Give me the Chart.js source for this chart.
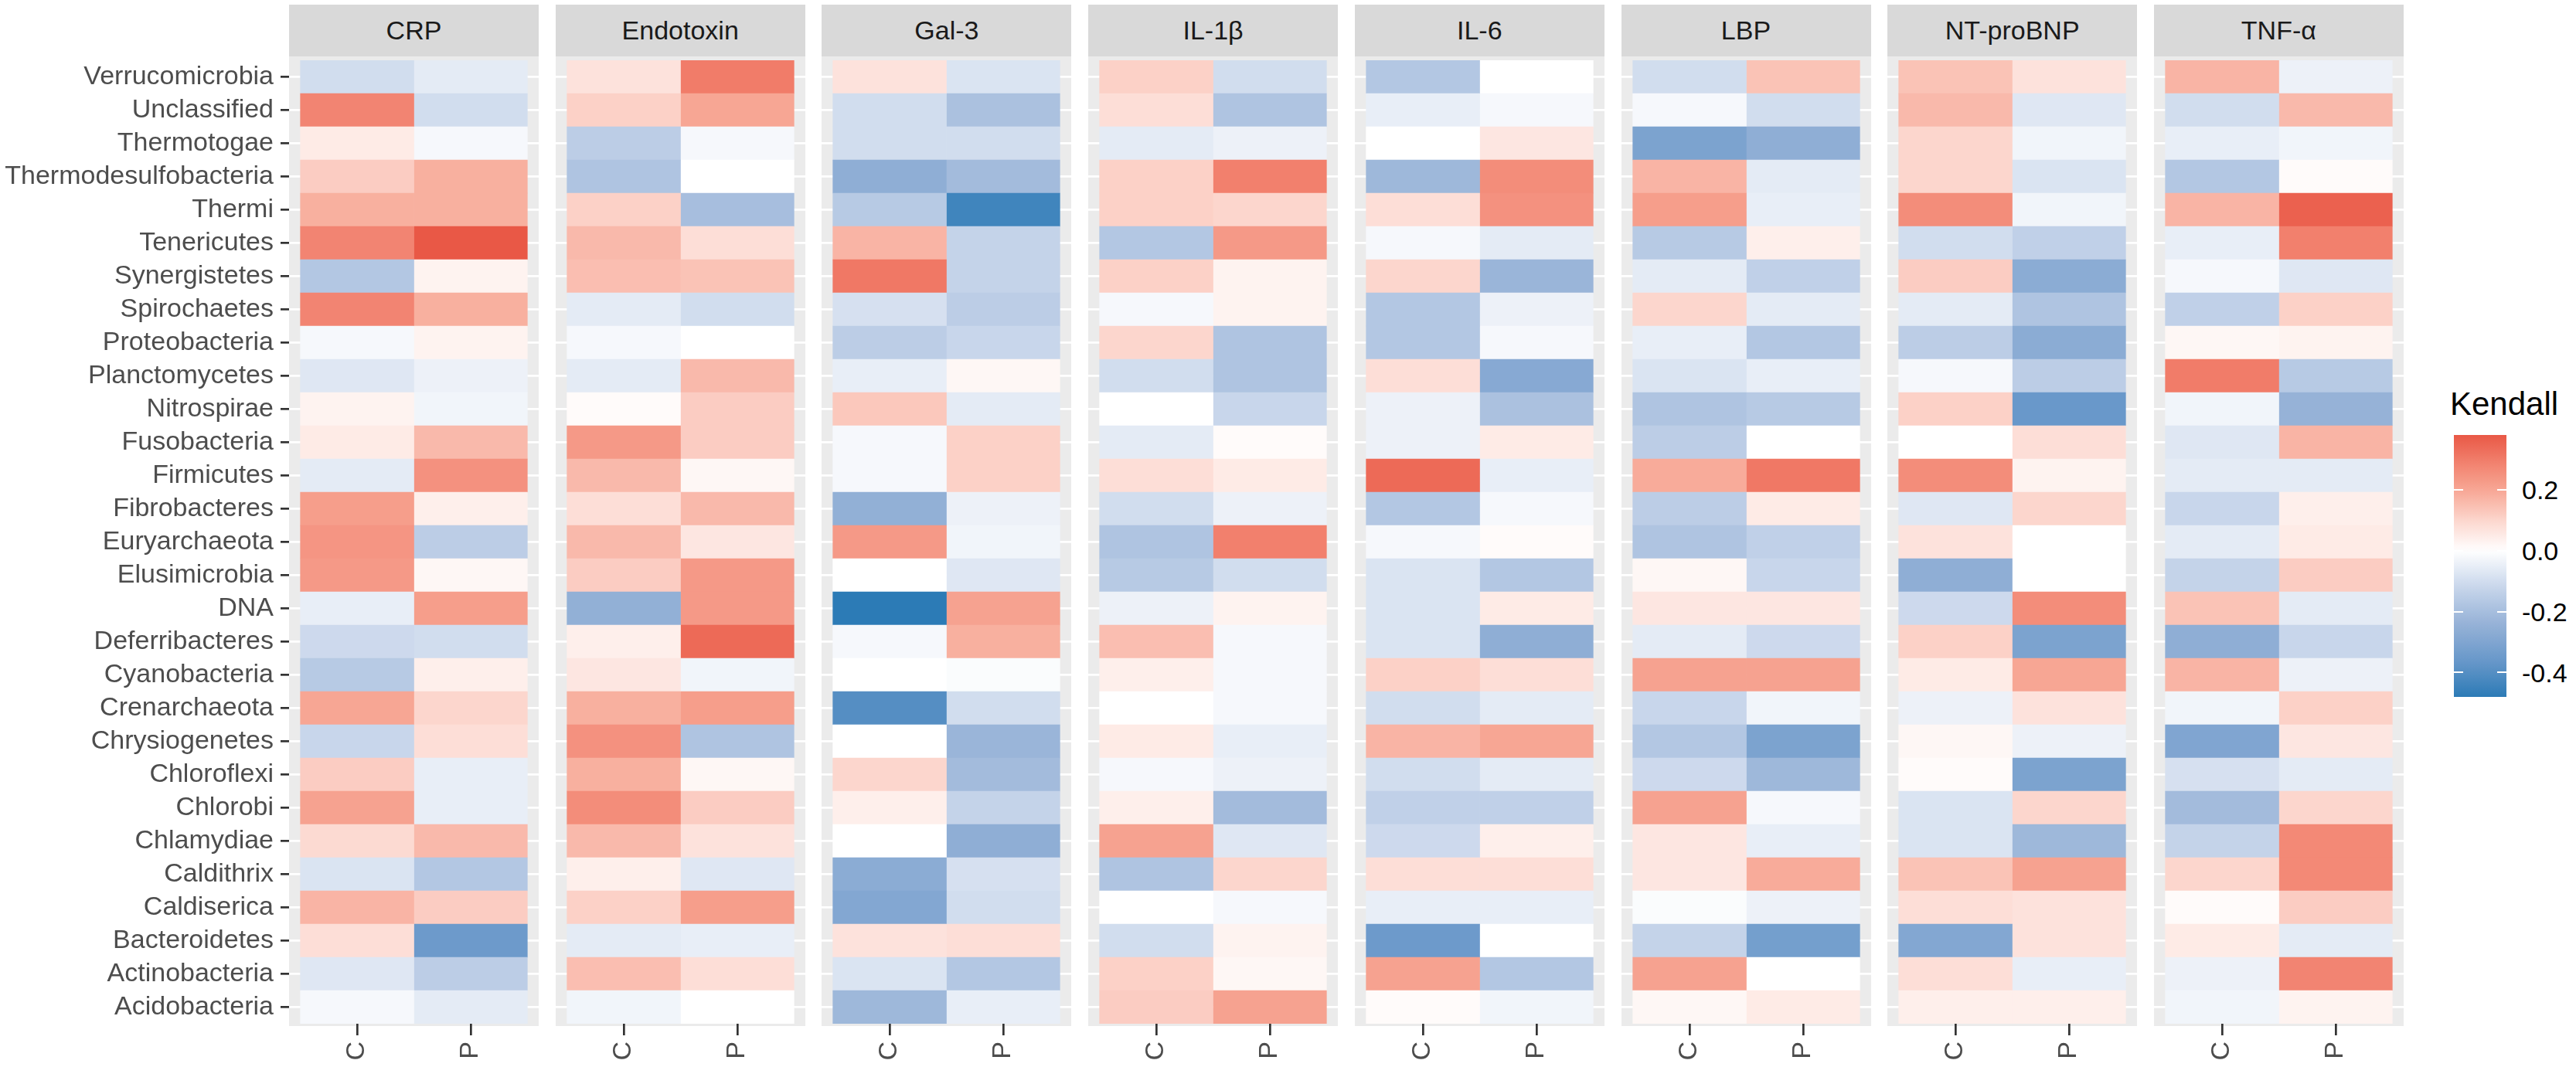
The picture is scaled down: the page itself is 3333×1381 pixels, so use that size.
<!DOCTYPE html>
<html>
<head>
<meta charset="utf-8">
<script src="https://cdn.jsdelivr.net/npm/chart.js@4.4.1/dist/chart.umd.min.js"></script>
<style>
  body { margin: 0; background: #fff; font-family: "Liberation Sans", Arial, sans-serif; }
  #page { position: relative; width: 3333px; height: 1381px; overflow: hidden; }
  .strip { position: absolute; top: 6px; height: 67px; line-height: 67px; background: #D9D9D9;
           color: #1A1A1A; font-size: 34px; text-align: center; }
  canvas { position: absolute; }
  .lab { position: absolute; font-size: 34px; line-height: 34px; color: #000; }
</style>
</head>
<body>
<div id="page"></div>
<script>
let taxa = ["Verrucomicrobia", "Unclassified", "Thermotogae", "Thermodesulfobacteria", "Thermi",
  "Tenericutes", "Synergistetes", "Spirochaetes", "Proteobacteria", "Planctomycetes", "Nitrospirae",
  "Fusobacteria", "Firmicutes", "Fibrobacteres", "Euryarchaeota", "Elusimicrobia", "DNA",
  "Deferribacteres", "Cyanobacteria", "Crenarchaeota", "Chrysiogenetes", "Chloroflexi", "Chlorobi",
  "Chlamydiae", "Caldithrix", "Caldiserica", "Bacteroidetes", "Actinobacteria", "Acidobacteria"];
let markers = ["CRP", "Endotoxin", "Gal-3", "IL-1β", "IL-6", "LBP", "NT-proBNP", "TNF-α"];
let groups = ["C", "P"];
let legendTicks = [0.2, 0.0, -0.2, -0.4];

// Kendall tau, rows in the order of taxa (top to bottom)
let crpC  = [-0.10, 0.28, 0.05, 0.12, 0.18, 0.28, -0.17, 0.28, -0.02, -0.07, 0.03, 0.05, -0.06, 0.22, 0.24, 0.23, -0.05, -0.11, -0.16, 0.20, -0.12, 0.12, 0.21, 0.09, -0.08, 0.17, 0.08, -0.07, -0.02];
let crpP  = [-0.06, -0.10, -0.02, 0.18, 0.18, 0.38, 0.03, 0.18, 0.03, -0.04, -0.03, 0.16, 0.25, 0.04, -0.15, 0.02, 0.22, -0.10, 0.04, 0.10, 0.08, -0.05, -0.05, 0.16, -0.17, 0.12, -0.35, -0.15, -0.06];
let endoC = [0.07, 0.11, -0.15, -0.18, 0.11, 0.16, 0.15, -0.06, -0.02, -0.06, 0.01, 0.23, 0.16, 0.08, 0.16, 0.12, -0.25, 0.04, 0.06, 0.18, 0.25, 0.18, 0.26, 0.16, 0.04, 0.11, -0.06, 0.15, -0.03];
let endoP = [0.30, 0.20, -0.02, 0.00, -0.20, 0.08, 0.14, -0.10, 0.00, 0.16, 0.12, 0.12, 0.02, 0.16, 0.06, 0.23, 0.23, 0.34, -0.03, 0.22, -0.18, 0.02, 0.12, 0.07, -0.07, 0.22, -0.05, 0.08, 0.00];
let gal3C = [0.07, -0.10, -0.10, -0.26, -0.16, 0.17, 0.31, -0.09, -0.15, -0.05, 0.13, -0.02, -0.02, -0.25, 0.23, 0.00, -0.48, -0.02, 0.00, -0.40, 0.00, 0.10, 0.04, 0.00, -0.27, -0.29, 0.07, -0.08, -0.22];
let gal3P = [-0.08, -0.19, -0.10, -0.21, -0.44, -0.13, -0.13, -0.15, -0.12, 0.02, -0.06, 0.11, 0.11, -0.04, -0.03, -0.07, 0.21, 0.18, -0.01, -0.10, -0.23, -0.21, -0.13, -0.26, -0.09, -0.10, 0.08, -0.17, -0.05];
let il1C  = [0.11, 0.08, -0.06, 0.11, 0.11, -0.17, 0.11, -0.02, 0.10, -0.10, 0.00, -0.06, 0.08, -0.10, -0.18, -0.16, -0.04, 0.15, 0.04, 0.00, 0.05, -0.02, 0.04, 0.21, -0.18, 0.00, -0.10, 0.11, 0.12];
let il1P  = [-0.10, -0.18, -0.04, 0.29, 0.10, 0.23, 0.03, 0.03, -0.18, -0.18, -0.12, 0.01, 0.05, -0.04, 0.29, -0.10, 0.03, -0.02, -0.02, -0.02, -0.05, -0.04, -0.21, -0.07, 0.10, -0.02, 0.03, 0.02, 0.21];
let il6C  = [-0.17, -0.05, 0.00, -0.22, 0.08, -0.02, 0.10, -0.17, -0.17, 0.08, -0.04, -0.04, 0.34, -0.17, -0.02, -0.08, -0.08, -0.08, 0.11, -0.10, 0.17, -0.10, -0.14, -0.11, 0.08, -0.05, -0.35, 0.21, 0.01];
let il6P  = [0.00, -0.02, 0.06, 0.26, 0.25, -0.06, -0.23, -0.04, -0.02, -0.28, -0.19, 0.05, -0.05, -0.02, 0.01, -0.17, 0.05, -0.26, 0.08, -0.06, 0.20, -0.06, -0.14, 0.04, 0.08, -0.05, 0.00, -0.17, -0.03];
let lbpC  = [-0.10, -0.02, -0.31, 0.17, 0.22, -0.16, -0.06, 0.10, -0.05, -0.08, -0.18, -0.15, 0.19, -0.15, -0.18, 0.02, 0.06, -0.06, 0.21, -0.12, -0.17, -0.11, 0.21, 0.06, 0.06, -0.01, -0.13, 0.21, 0.02];
let lbpP  = [0.14, -0.10, -0.26, -0.06, -0.05, 0.04, -0.14, -0.06, -0.17, -0.05, -0.16, 0.00, 0.31, 0.05, -0.14, -0.12, 0.06, -0.11, 0.21, -0.03, -0.31, -0.22, -0.02, -0.05, 0.19, -0.04, -0.33, 0.00, 0.05];
let ntC   = [0.14, 0.16, 0.10, 0.10, 0.26, -0.10, 0.12, -0.06, -0.15, -0.02, 0.11, 0.00, 0.26, -0.07, 0.07, -0.26, -0.11, 0.11, 0.05, -0.04, 0.02, 0.01, -0.08, -0.08, 0.14, 0.08, -0.29, 0.08, 0.04];
let ntP   = [0.07, -0.07, -0.03, -0.08, -0.03, -0.14, -0.27, -0.18, -0.27, -0.15, -0.36, 0.08, 0.03, 0.10, 0.00, 0.00, 0.26, -0.31, 0.20, 0.07, -0.04, -0.31, 0.10, -0.22, 0.21, 0.07, 0.07, -0.05, 0.04];
let tnfC  = [0.17, -0.10, -0.05, -0.17, 0.17, -0.05, -0.02, -0.14, 0.02, 0.30, -0.03, -0.07, -0.06, -0.12, -0.06, -0.13, 0.14, -0.26, 0.17, -0.03, -0.30, -0.09, -0.21, -0.13, 0.10, 0.01, 0.05, -0.04, -0.03];
let tnfP  = [-0.04, 0.16, -0.03, 0.01, 0.36, 0.29, -0.07, 0.11, 0.03, -0.16, -0.24, 0.17, -0.06, 0.04, 0.05, 0.12, -0.06, -0.12, -0.04, 0.11, 0.06, -0.06, 0.10, 0.27, 0.27, 0.12, -0.06, 0.28, 0.03];

let panelValues = [[crpC, crpP], [endoC, endoP], [gal3C, gal3P], [il1C, il1P],
  [il6C, il6P], [lbpC, lbpP], [ntC, ntP], [tnfC, tnfP]];

// blue - white - red fill scale
let colorStops = [
  [-0.48, [44, 123, 182]], [-0.36, [105, 152, 202]], [-0.24, [150, 178, 215]],
  [-0.12, [200, 214, 235]], [0, [255, 255, 255]], [0.1, [252, 214, 205]],
  [0.2, [247, 166, 148]], [0.3, [241, 124, 105]], [0.38, [233, 88, 70]], [0.48, [222, 45, 38]]
];
function fillFor(v) {
  if (v <= colorStops[0][0]) return "rgb(" + colorStops[0][1].join(",") + ")";
  for (let i = 1; i < colorStops.length; i++) {
    let [v1, c1] = colorStops[i];
    let [v0, c0] = colorStops[i - 1];
    if (v <= v1) {
      let t = (v - v0) / (v1 - v0);
      let c = c0.map((x, k) => Math.round(x + (c1[k] - x) * t));
      return "rgb(" + c.join(",") + ")";
    }
  }
  return "rgb(" + colorStops[colorStops.length - 1][1].join(",") + ")";
}

let FONT = "'Liberation Sans', Arial, sans-serif";
let page = document.getElementById("page");
let panelLeft0 = 374, panelStep = 344.7, panelW = 323;
let canvasTop = 73, tilesH = 1247, xAxisH = 56;

let panelBg = {
  id: "panelBg",
  beforeDraw(chart) {
    let a = chart.chartArea, ctx = chart.ctx;
    ctx.save();
    ctx.fillStyle = "#EBEBEB";
    ctx.fillRect(a.left, a.top - 5, a.right - a.left, a.bottom - a.top + 8);
    ctx.restore();
  }
};

markers.forEach((m, i) => {
  let left = panelLeft0 + panelStep * i;
  let strip = document.createElement("div");
  strip.className = "strip";
  strip.style.left = left + "px";
  strip.style.width = panelW + "px";
  strip.textContent = m;
  page.appendChild(strip);

  let first = i === 0;
  let cv = document.createElement("canvas");
  let cw = first ? panelLeft0 + panelW : panelW;
  let ch = 5 + tilesH + xAxisH;
  cv.width = cw; cv.height = ch;
  cv.style.width = cw + "px"; cv.style.height = ch + "px";
  cv.style.left = (first ? 0 : left) + "px";
  cv.style.top = canvasTop + "px";
  page.appendChild(cv);

  new Chart(cv.getContext("2d"), {
    type: "bar",
    data: {
      labels: taxa,
      datasets: groups.map((g, j) => ({
        label: g,
        data: taxa.map(() => [j, j + 1]),
        backgroundColor: panelValues[i][j].map(fillFor),
        borderWidth: 0,
        barPercentage: 1,
        categoryPercentage: 1,
        grouped: false
      }))
    },
    options: {
      indexAxis: "y",
      responsive: false,
      devicePixelRatio: 1,
      animation: false,
      events: [],
      layout: { padding: { top: 5, left: 0, right: 0, bottom: 0 } },
      plugins: { legend: { display: false }, tooltip: { enabled: false } },
      scales: {
        x: {
          type: "linear",
          min: -0.1,
          max: 2.1,
          afterBuildTicks: s => { s.ticks = groups.map((g, j) => ({ value: j + 0.5 })); },
          afterFit: s => { s.height = xAxisH; s.paddingLeft = 0; s.paddingRight = 0; },
          border: { display: false },
          grid: { color: "#FFFFFF", lineWidth: 2.7, tickColor: "#333333", tickLength: 15, tickWidth: 2.7 },
          ticks: {
            autoSkip: false, minRotation: 90, maxRotation: 90, padding: 8,
            color: "#4D4D4D", font: { family: FONT, size: 34 },
            callback: (v, idx) => groups[idx]
          }
        },
        y: {
          type: "category",
          afterFit: s => { s.width = first ? panelLeft0 : 0; s.paddingTop = 0; s.paddingBottom = 0; },
          border: { display: false },
          grid: {
            offset: false, color: "#FFFFFF", lineWidth: 2.7,
            drawTicks: first, tickColor: "#333333", tickLength: 11, tickWidth: 2.7
          },
          ticks: {
            display: first, autoSkip: false, padding: 9,
            color: "#4D4D4D", font: { family: FONT, size: 34 }
          }
        }
      }
    },
    plugins: [panelBg]
  });
});

// colour bar legend
let allVals = panelValues.flat(2);
let vMin = Math.min(...allVals), vMax = Math.max(...allVals);
let barTop = 563, barH = 339, barLeft = 3175, barW = 68;
let yOf = v => barTop + (vMax - v) / (vMax - vMin) * barH;

let title = document.createElement("div");
title.className = "lab";
title.style.cssText = "left:3170px;top:502px;font-size:42px;line-height:42px;";
title.textContent = "Kendall";
page.appendChild(title);

let steps = [];
for (let k = 0; k <= 40; k++) {
  let v = vMax - (vMax - vMin) * k / 40;
  steps.push(fillFor(v) + " " + (k * 2.5) + "%");
}
let bar = document.createElement("div");
bar.style.cssText = "position:absolute;left:" + barLeft + "px;top:" + barTop + "px;width:" + barW +
  "px;height:" + barH + "px;background:linear-gradient(to bottom," + steps.join(",") + ");";
page.appendChild(bar);

legendTicks.forEach(v => {
  let y = yOf(v);
  [0, barW - 12].forEach(dx => {
    let t = document.createElement("div");
    t.style.cssText = "position:absolute;left:" + (barLeft + dx) + "px;top:" + (y - 1) +
      "px;width:12px;height:2px;background:#fff;";
    page.appendChild(t);
  });
  let lab = document.createElement("div");
  lab.className = "lab";
  lab.style.left = "3263px";
  lab.style.top = (y - 16.6) + "px";
  lab.textContent = v.toFixed(1);
  page.appendChild(lab);
});
</script>
</body>
</html>
